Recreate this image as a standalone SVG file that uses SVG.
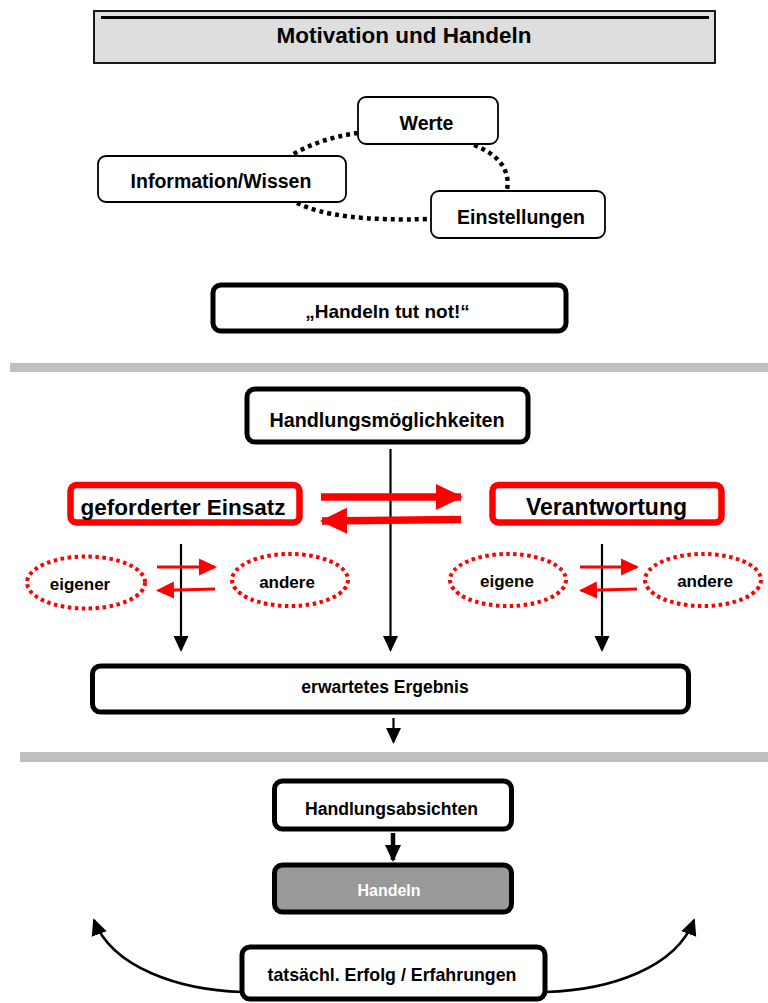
<svg xmlns="http://www.w3.org/2000/svg" width="768" height="1003" viewBox="0 0 768 1003">
<style>
text{font-family:"Liberation Sans",Arial,sans-serif;font-weight:bold;text-anchor:middle;fill:#000}
.thin{fill:#fff;stroke:#000;stroke-width:1.8}
.thick{fill:#fff;stroke:#000;stroke-width:5}
.red{fill:#fff;stroke:#f00;stroke-width:6.5}
.ell{fill:none;stroke:#f00;stroke-width:4;stroke-dasharray:3.5 3.5}
.dot{fill:none;stroke:#000;stroke-width:4.5;stroke-dasharray:4 4}
.bar{fill:#bfbfbf}
</style>
<defs>
<marker id="ab" markerWidth="16" markerHeight="16" refX="14" refY="7.5" orient="auto" markerUnits="userSpaceOnUse" viewBox="0 0 16 15"><path d="M0,0 L16,7.5 L0,15 z" fill="#000"/></marker>
<marker id="ab2" markerWidth="17" markerHeight="17" refX="15" refY="8" orient="auto" markerUnits="userSpaceOnUse" viewBox="0 0 17 16"><path d="M0,0 L17,8 L0,16 z" fill="#000"/></marker>
<marker id="ar" markerWidth="27" markerHeight="26" refX="25" refY="13" orient="auto" markerUnits="userSpaceOnUse" viewBox="0 0 27 26"><path d="M0,0 L27,13 L0,26 z" fill="#f00"/></marker>
<marker id="ars" markerWidth="18" markerHeight="18" refX="16" refY="8.5" orient="auto" markerUnits="userSpaceOnUse" viewBox="0 0 18 17"><path d="M0,0 L18,8.5 L0,17 z" fill="#f00"/></marker>
</defs>

<g id="title">
<rect x="94" y="11" width="621" height="52" fill="#dedede" stroke="#000" stroke-width="1.8"/>
<line x1="101" y1="17.5" x2="709" y2="17.5" stroke="#000" stroke-width="3"/>
<text x="404" y="42.5" font-size="22.5">Motivation und Handeln</text>
</g>

<g id="bars">
<rect class="bar" x="10" y="363" width="758" height="9"/>
<rect class="bar" x="20" y="752" width="748" height="10"/>
</g>

<g id="connectors">
<path class="dot" d="M358,133 Q320,138 290,156"/>
<path class="dot" d="M474,145 Q512,160 507,190"/>
<path class="dot" d="M297,203 Q335,222 429,219"/>
<line x1="390.5" y1="449" x2="390.5" y2="650" stroke="#000" stroke-width="2.2" marker-end="url(#ab)"/>
<line x1="181" y1="544" x2="181" y2="650" stroke="#000" stroke-width="2.2" marker-end="url(#ab)"/>
<line x1="602" y1="544" x2="602" y2="650" stroke="#000" stroke-width="2.2" marker-end="url(#ab)"/>
<line x1="321" y1="497" x2="461" y2="497" stroke="#f00" stroke-width="7.5" marker-end="url(#ar)"/>
<line x1="461" y1="519.5" x2="322" y2="521" stroke="#f00" stroke-width="7.5" marker-end="url(#ar)"/>
<line x1="157" y1="567" x2="215" y2="567" stroke="#f00" stroke-width="3" marker-end="url(#ars)"/>
<line x1="215" y1="589" x2="158" y2="590.5" stroke="#f00" stroke-width="3" marker-end="url(#ars)"/>
<line x1="580" y1="567" x2="637" y2="567" stroke="#f00" stroke-width="3" marker-end="url(#ars)"/>
<line x1="637" y1="589" x2="581" y2="590.5" stroke="#f00" stroke-width="3" marker-end="url(#ars)"/>
<line x1="393.5" y1="718" x2="393.5" y2="742" stroke="#000" stroke-width="2.2" marker-end="url(#ab)"/>
<line x1="393" y1="833" x2="393" y2="860" stroke="#000" stroke-width="4.5" marker-end="url(#ab2)"/>
<path d="M242,992 C180,990 112,968 94,920" fill="none" stroke="#000" stroke-width="2.5" marker-end="url(#ab2)"/>
<path d="M546,992 C610,990 676,968 694,920" fill="none" stroke="#000" stroke-width="2.5" marker-end="url(#ab2)"/>
</g>

<g id="werte">
<rect class="thin" x="358" y="97" width="140" height="47" rx="8"/>
<text x="426.5" y="130" font-size="19.5">Werte</text>
</g>
<g id="information">
<rect class="thin" x="98" y="156" width="248" height="46" rx="8"/>
<text x="221" y="188" font-size="19.5">Information/Wissen</text>
</g>
<g id="einstellungen">
<rect class="thin" x="431" y="191" width="174" height="47" rx="8"/>
<text x="521" y="224" font-size="19.5">Einstellungen</text>
</g>
<g id="handeln-tut-not">
<rect class="thick" x="213" y="285" width="353" height="46" rx="8"/>
<text x="387.5" y="318" font-size="19">„Handeln tut not!“</text>
</g>
<g id="handlungsmoeglichkeiten">
<rect class="thick" x="247" y="389" width="281" height="53" rx="8"/>
<text x="387" y="426.5" font-size="19.8">Handlungsmöglichkeiten</text>
</g>
<g id="gefordert">
<rect class="red" x="70.5" y="485" width="229" height="37.5" rx="6"/>
<text x="183" y="515" font-size="22.5">geforderter Einsatz</text>
</g>
<g id="verantwortung">
<rect class="red" x="492.5" y="485" width="229" height="37.5" rx="6"/>
<text x="606.5" y="515" font-size="23">Verantwortung</text>
</g>
<g id="eigener">
<ellipse class="ell" cx="86" cy="582.5" rx="59" ry="26"/>
<text x="80" y="590" font-size="17">eigener</text>
</g>
<g id="andere1">
<ellipse class="ell" cx="290" cy="580" rx="58" ry="26"/>
<text x="287" y="588" font-size="17">andere</text>
</g>
<g id="eigene">
<ellipse class="ell" cx="508" cy="580" rx="58" ry="26"/>
<text x="507" y="587" font-size="17">eigene</text>
</g>
<g id="andere2">
<ellipse class="ell" cx="703" cy="580" rx="58" ry="26"/>
<text x="705" y="587" font-size="17">andere</text>
</g>
<g id="ergebnis">
<rect class="thick" x="92.5" y="666" width="596" height="46" rx="8"/>
<text x="385" y="693" font-size="17.5">erwartetes Ergebnis</text>
</g>
<g id="absichten">
<rect class="thick" x="274.5" y="781" width="237" height="48" rx="8"/>
<text x="391.5" y="815" font-size="17.6">Handlungsabsichten</text>
</g>
<g id="handeln">
<rect x="274.5" y="865" width="237" height="47" rx="8" fill="#999" stroke="#000" stroke-width="5"/>
<text x="389" y="896" font-size="16" style="fill:#fff">Handeln</text>
</g>
<g id="erfolg">
<rect class="thick" x="242" y="947" width="303" height="52" rx="8"/>
<text x="392" y="981" font-size="17.8">tatsächl. Erfolg / Erfahrungen</text>
</g>
</svg>
